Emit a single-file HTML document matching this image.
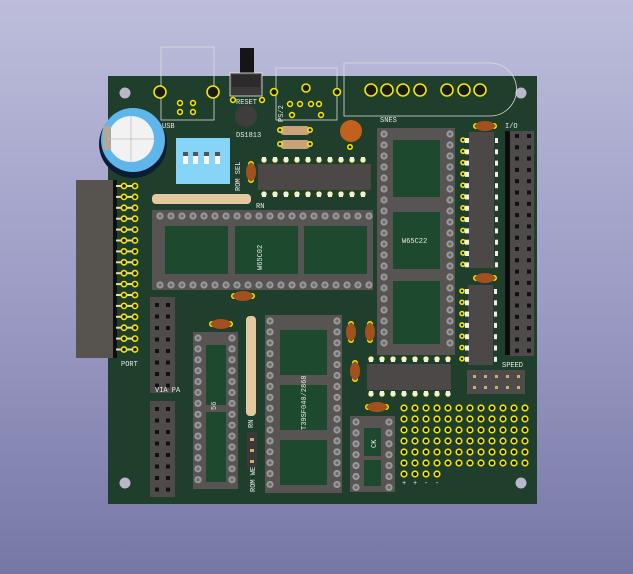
<!DOCTYPE html>
<html><head><meta charset="utf-8"><style>
html,body{margin:0;padding:0;width:633px;height:574px;overflow:hidden}
body{background:linear-gradient(#bdbddb,#9d9dc6 50%,#7777a6)}
svg{position:absolute;left:0;top:0}
text{font-family:"Liberation Mono",monospace;fill:#e8e8e8;font-size:7px}
</style></head><body>
<svg id="s" width="633" height="574" xmlns="http://www.w3.org/2000/svg">
<!-- board -->
<rect x="108" y="76" width="429" height="428" fill="#1f3e2b"/>
<g id="g"></g>
</svg>
<script>
const g=document.getElementById('g');let h='';
const R=(x,y,w,hh,f,extra='')=>h+=`<rect x="${x}" y="${y}" width="${w}" height="${hh}" fill="${f}" ${extra}/>`;
const C=(x,y,r,f,extra='')=>h+=`<circle cx="${x}" cy="${y}" r="${r}" fill="${f}" ${extra}/>`;
const T=(x,y,t,extra='')=>h+=`<text x="${x}" y="${y}" ${extra}>${t}</text>`;
const ring=(x,y,r=3.2)=>C(x,y,r,'#1a1a10','stroke="#f0e800" stroke-width="1.6"');
const spin=(x,y)=>{C(x,y,3.6,'#9a9a9a');C(x,y,1.6,'#6a6a6a');};
const cap=(x,y,vert)=>{ if(vert){ring(x,y-8,2.2);ring(x,y+8,2.2);h+=`<ellipse cx="${x}" cy="${y}" rx="5" ry="9" fill="#a3501f"/>`;} else {ring(x-9,y,2.2);ring(x+9,y,2.2);h+=`<ellipse cx="${x}" cy="${y}" rx="10" ry="5" fill="#a3501f"/>`;} };
// mounting holes
[[125,93],[521,93],[125,483],[521,483]].forEach(p=>C(p[0],p[1],5.5,'#b8b8c8'));
// USB
R(161,47,53,73,'none','stroke="#ddd" stroke-width="0.8"');
ring(160,92,6);ring(213,92,6);
[[180,103],[193,103],[180,112],[193,112]].forEach(p=>ring(p[0],p[1],2.4));
T(162,128,'USB');
// reset
R(240,48,14,26,'#151515');R(230,73,32,23,'#3a3838','stroke="#eee" stroke-width="0.8"');R(232,75,28,12,'#2c2b2b');
ring(233,100,2.4);ring(262,100,2.4);T(236,104,'RESET');
C(246,116,11,'#3e3c3c');T(236,137,'DS1813');
// PS2
R(276,68,61,52,'none','stroke="#ddd" stroke-width="0.8"');
ring(274,92,3.5);ring(337,92,3.5);ring(306,88,4);
[[290,104],[300,104],[311,104],[319,104],[292,115],[321,115]].forEach(p=>ring(p[0],p[1],2.4));
T(277,122,'PS/2','transform="rotate(-90 277 122)" dy="6"');
// SNES
h+=`<path d="M344 63 H490 A26 26 0 0 1 490 116 H344 Z" fill="none" stroke="#ddd" stroke-width="0.8"/>`;
[371,387,403,420,447,464,480].forEach(x=>ring(x,90,6));
T(380,122,'SNES');
// resistors small
R(280,126,30,9,'#c9a47a','rx="4"');ring(280,130,2.2);ring(310,130,2.2);
R(280,140,30,9,'#c9a47a','rx="4"');ring(280,144,2.2);ring(310,144,2.2);
C(351,131,11,'#c2601e');ring(350,147,2.2);
// big cap
C(133,144,34,'#0b1c36');C(133,140,32,'#5fb6ea');C(131,139,23,'#f2f2f2');R(103,126,8,24,'#b0a898');
h+=`<line x1="131" y1="116" x2="131" y2="162" stroke="#bbb" stroke-width="0.7"/><line x1="108" y1="139" x2="154" y2="139" stroke="#bbb" stroke-width="0.7"/>`;
// dip switch
R(176,138,54,46,'#86d4f6');[183,193,204,215].forEach(x=>{R(x,152,5,12,'#f6f6f6');R(x,152,5,4,'#555')});
T(235,186,'ROM SEL','transform="rotate(-90 240 186)"');
// IC top
cap(251,172,true);
R(258,164,113,26,'#4c4848');
for(let i=0;i<10;i++){let x=264+i*11;ring(x,160,2);ring(x,194,2);R(x-2,157,4,5,'#eee');R(x-2,192,4,5,'#eee');}
// RN
R(152,194,99,10,'#e6c8a0','rx="4"');T(256,208,'RN');
// W65C02 socket
R(152,210,221,80,'#585454');R(165,226,63,48,'#1d4a2e');R(235,226,63,48,'#1d4a2e');R(304,226,63,48,'#1d4a2e');
for(let i=0;i<20;i++){let x=160+i*11;spin(x,216);spin(x,285);}
T(262,270,'W65C02','transform="rotate(-90 262 270)"');
// W65C22 socket
R(377,128,78,227,'#585454');R(393,140,47,57,'#1d4a2e');R(393,212,47,57,'#1d4a2e');R(393,281,47,63,'#1d4a2e');
for(let i=0;i<20;i++){let y=134+i*11;spin(384,y);spin(450,y);}
T(402,243,'W65C22');
// right ICs
cap(485,126,false);R(469,132,25,136,'#4c4848');
for(let i=0;i<12;i++){let y=140+i*11.3;ring(463,y,2);R(465,y-2,4,5,'#eee');R(495,y-2,3,5,'#eee');}
cap(485,278,false);R(468,285,25,80,'#4c4848');
for(let i=0;i<7;i++){let y=291+i*11.3;ring(462,y,2);R(465,y-2,4,5,'#eee');R(494,y-2,3,5,'#eee');}
// IO header
R(505,131,5,224,'#0c0c0c');R(510,131,24,225,'#4f4b4b');
for(let i=0;i<20;i++){let y=136+i*11.3;R(515,y-2,4,4,'#111');R(527,y-2,4,4,'#111');}
T(505,128,'I/O');
// left connector
R(76,180,37,178,'#57534f');R(113,180,4,178,'#0e0e0e');
for(let i=0;i<16;i++){let y=186+i*10.9;R(116,y-1,16,2,'#e8dcaa');ring(124,y,2.6);ring(135,y,2.6);}
T(121,366,'PORT');
// VIA PA headers
const hdr=(x,y,rows)=>{R(x,y,25,rows*11.5+4,'#4f4b4b');for(let i=0;i<rows;i++){R(x+5,y+6+i*11.5,4,4,'#111');R(x+16,y+6+i*11.5,4,4,'#111');}};
hdr(150,297,8);T(155,392,'VIA PA');hdr(150,401,8);
// socket 18 pin
cap(221,324,false);
R(193,332,45,157,'#585454');R(206,345,20,60,'#1d4a2e');R(206,412,20,70,'#1d4a2e');
for(let i=0;i<14;i++){let y=338+i*10.9;spin(198,y);spin(232,y);}
T(216,410,'56','transform="rotate(-90 216 410)"');
// vertical resistor
R(246,316,10,100,'#e6c8a0','rx="4"');T(253,428,'RN','transform="rotate(-90 253 428)"');
R(247,432,10,35,'#3a3838');[439,450,461].forEach(y=>R(250,y-1,4,3,'#c9b070'));
T(255,492,'ROM WE','transform="rotate(-90 255 492)"');
// T39SF040 socket
R(265,315,77,178,'#585454');R(280,330,47,45,'#1d4a2e');R(280,385,47,45,'#1d4a2e');R(280,440,47,45,'#1d4a2e');
for(let i=0;i<16;i++){let y=321+i*10.9;spin(270,y);spin(337,y);}
T(306,430,'T39SF040/2868','transform="rotate(-90 306 430)"');
// caps middle
cap(351,332,true);cap(370,332,true);cap(355,371,true);cap(243,296,false);cap(377,407,false);
// small IC
R(367,364,84,26,'#4c4848');
for(let i=0;i<8;i++){let x=371+i*11;ring(x,359,2);ring(x,394,2);R(x-2,357,4,5,'#eee');R(x-2,391,4,5,'#eee');}
// small socket
R(350,416,45,76,'#585454');R(364,428,17,28,'#1d4a2e');R(364,460,17,26,'#1d4a2e');
for(let i=0;i<7;i++){let y=422+i*10.9;spin(356,y);spin(389,y);}
T(376,448,'CK','transform="rotate(-90 376 448)"');
// speed header
R(467,370,58,24,'#4f4b4b');for(let i=0;i<5;i++){R(473+i*11,375,3,3,'#c9b070');R(473+i*11,386,3,3,'#c9b070');}
T(502,367,'SPEED');
// proto grid
for(let r=0;r<6;r++)for(let c=0;c<12;c++)ring(404+c*11,408+r*11,2.8);
for(let c=0;c<4;c++){ring(404+c*11,474,2.8);}
['+','+','-','-'].forEach((s,i)=>T(402+i*11,485,s));
g.innerHTML=h;
</script>
</body></html>
